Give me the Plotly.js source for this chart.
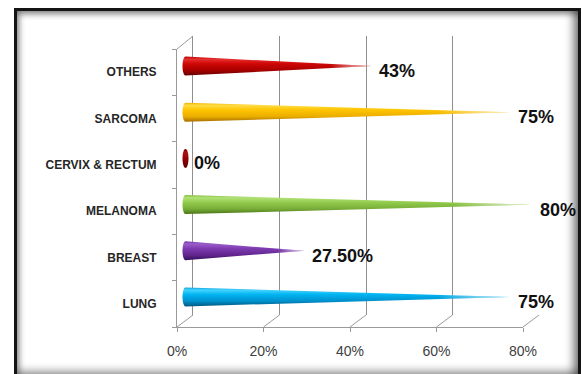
<!DOCTYPE html>
<html>
<head>
<meta charset="utf-8">
<script src="https://cdn.plot.ly/plotly-3.0.1.min.js"></script>
<style>
  html, body { margin: 0; padding: 0; background: #ffffff; overflow: hidden; }
  #wrap { position: relative; width: 582px; height: 374px; }
  #chart { position: absolute; left: 0; top: 0; width: 582px; height: 374px; }
  #frame {
    position: absolute; left: 14px; top: 8px; width: 567px; height: 372px;
    box-sizing: border-box; border: 3px solid #141414; pointer-events: none;
    box-shadow: inset -7px 0 8px -2px rgba(0,0,0,0.45),
                inset 4px 5px 6px -2px rgba(0,0,0,0.40),
                inset 0 -8px 8px -2px rgba(0,0,0,0.40);
  }
</style>
</head>
<body>
<div id="wrap">
  <div id="chart"></div>
  <div id="frame"></div>
</div>
<script>
// ---- data -------------------------------------------------------------
const categories  = ['LUNG', 'BREAST', 'MELANOMA', 'CERVIX & RECTUM', 'SARCOMA', 'OTHERS'];
const shares      = [75, 27.5, 80, 0, 75, 43];
const valueLabels = ['75%', '27.50%', '80%', '0%', '75%', '43%'];
const xTickVals   = [0, 20, 40, 60, 80];
const xTickText   = ['0%', '20%', '40%', '60%', '80%'];

// ---- cone colours (vertical shading, bottom -> top) --------------------
const coneShades = [
  [[0, '#00587f'], [0.28, '#0090cc'], [0.62, '#00b4f0'], [0.86, '#45d2ff'], [1, '#0fa4dc']],
  [[0, '#35105a'], [0.28, '#62268f'], [0.62, '#7f3cb2'], [0.86, '#9a5dcb'], [1, '#7434a6']],
  [[0, '#4a7419'], [0.28, '#78ae38'], [0.62, '#93cc4e'], [0.86, '#b2e276'], [1, '#86bd45']],
  [[0, '#5c0000'], [0.4, '#8a0000'], [0.8, '#a81414'], [1, '#7a0000']],
  [[0, '#a86f00'], [0.28, '#eaae00'], [0.62, '#ffc400'], [0.86, '#ffdc45'], [1, '#efb300']],
  [[0, '#620000'], [0.28, '#a80000'], [0.62, '#cf0606'], [0.86, '#e63030'], [1, '#bb0000']]
];
const tipFade = [[0, 'rgba(255,255,255,0)'], [0.78, 'rgba(255,255,255,0)'], [1, 'rgba(255,255,255,0.8)']];

// ---- geometry (pixels in the 582x374 page) -----------------------------
const W = 582, H = 374;
const GEO = {
  front: { x0: 177, x1: 523, y0: 49, y1: 327 },   // front edge of the box
  back:  { x0: 193, x1: 539, y0: 36, y1: 315 },   // back wall
  cones: { x0: 185.5, x1: 531.5, y0: 43, y1: 320 } // cones sit mid-depth
};
const fx = px => px / W;
const fy = px => 1 - px / H;
const X_MAX = 80;
const X_PAD = 2;                 // room left of zero for the rounded cone bases
const N = categories.length;

// cone base ellipse in data units of the cone axes
const pxPerX = (GEO.cones.x1 - GEO.cones.x0) / X_MAX;
const pxPerY = (GEO.cones.y1 - GEO.cones.y0) / N;
const BASE_RX = 3 / pxPerX;
const BASE_RY = 9.5 / pxPerY;

function coneOutline(value, yc) {
  const xs = [], ys = [];
  const steps = 28;
  for (let i = 0; i <= steps; i++) {
    const t = Math.PI / 2 + Math.PI * i / steps;          // left half of the base
    xs.push(BASE_RX * Math.cos(t));
    ys.push(yc + BASE_RY * Math.sin(t));
  }
  if (value > BASE_RX) {
    xs.push(value); ys.push(yc);                          // apex
  } else {
    for (let i = 1; i <= steps; i++) {                    // right half of the base
      const t = 1.5 * Math.PI + Math.PI * i / steps;
      xs.push(BASE_RX * Math.cos(t));
      ys.push(yc + BASE_RY * Math.sin(t));
    }
  }
  xs.push(xs[0]); ys.push(ys[0]);
  return { xs, ys };
}

// empty traces so the wall and front-edge subplots get drawn
const traces = [
  { type: 'scatter', x: [], y: [], xaxis: 'x', yaxis: 'y', hoverinfo: 'skip', showlegend: false },
  { type: 'scatter', x: [], y: [], xaxis: 'x2', yaxis: 'y2', hoverinfo: 'skip', showlegend: false }
];
categories.forEach((cat, i) => {
  const o = coneOutline(shares[i], i);
  traces.push({
    type: 'scatter', mode: 'none', x: o.xs, y: o.ys,
    xaxis: 'x3', yaxis: 'y3', fill: 'toself',
    fillcolor: coneShades[i][2][1],
    fillgradient: { type: 'vertical', colorscale: coneShades[i] },
    hoverinfo: 'skip', showlegend: false
  });
  if (shares[i] > BASE_RX) {
    traces.push({
      type: 'scatter', mode: 'none', x: o.xs, y: o.ys,
      xaxis: 'x3', yaxis: 'y3', fill: 'toself',
      fillcolor: 'rgba(255,255,255,0)',
      fillgradient: { type: 'horizontal', colorscale: tipFade },
      hoverinfo: 'skip', showlegend: false
    });
  }
});

// value labels next to each apex
const annotations = categories.map((cat, i) => ({
  x: shares[i], y: i, xref: 'x3', yref: 'y3',
  text: valueLabels[i], showarrow: false,
  xanchor: 'left', yanchor: 'middle', xshift: 6, yshift: -5,
  font: { family: 'Liberation Sans, Arial, sans-serif', size: 18, color: '#111111', weight: 'bold' }
}));

// depth edges of the box: floor diagonals and the top-left wall edge
const edgeLine = { color: '#9a9a9a', width: 1 };
const shapes = [];
xTickVals.forEach(v => {
  const xf = GEO.front.x0 + (GEO.front.x1 - GEO.front.x0) * v / X_MAX;
  const xb = GEO.back.x0 + (GEO.back.x1 - GEO.back.x0) * v / X_MAX;
  shapes.push({ type: 'line', xref: 'paper', yref: 'paper',
    x0: fx(xf), y0: fy(GEO.front.y1), x1: fx(xb), y1: fy(GEO.back.y1), line: edgeLine });
});
shapes.push({ type: 'line', xref: 'paper', yref: 'paper',
  x0: fx(GEO.front.x0), y0: fy(GEO.front.y0), x1: fx(GEO.back.x0), y1: fy(GEO.back.y0), line: edgeLine });

const catTickVals = categories.map((c, i) => i);
const boundaryVals = Array.from({ length: N + 1 }, (_, i) => i - 0.5);

const layout = {
  width: W, height: H,
  margin: { l: 0, r: 0, t: 0, b: 0, pad: 0 },
  paper_bgcolor: '#ffffff', plot_bgcolor: 'rgba(0,0,0,0)',
  showlegend: false,
  // back wall with the value gridlines
  xaxis: {
    domain: [fx(GEO.back.x0), fx(GEO.back.x1)], range: [0, X_MAX], anchor: 'y',
    tickmode: 'array', tickvals: xTickVals, showgrid: true, gridcolor: '#8f8f8f', gridwidth: 1,
    showticklabels: false, ticks: '', zeroline: false, showline: false
  },
  yaxis: {
    domain: [fy(GEO.back.y1), fy(GEO.back.y0)], range: [0, 1], anchor: 'x',
    showgrid: false, showticklabels: false, ticks: '', zeroline: false,
    showline: true, linecolor: '#8f8f8f', linewidth: 1
  },
  // front edge: value axis with percentage labels
  xaxis2: {
    domain: [fx(GEO.front.x0), fx(GEO.front.x1)], range: [0, X_MAX], anchor: 'y2',
    tickmode: 'array', tickvals: xTickVals, ticktext: xTickText,
    showgrid: false, zeroline: false, showline: true, linecolor: '#9a9a9a', linewidth: 1,
    ticks: 'outside', ticklen: 4, tickcolor: '#9a9a9a', ticklabelstandoff: 7,
    tickfont: { family: 'Liberation Sans, Arial, sans-serif', size: 14, color: '#404040' }
  },
  // front edge: category axis
  yaxis2: {
    domain: [fy(GEO.front.y1), fy(GEO.front.y0)], range: [-0.5, N - 0.5], anchor: 'x2',
    tickmode: 'array', tickvals: catTickVals, ticktext: categories,
    ticks: '', showgrid: false, zeroline: false, showline: true, linecolor: '#9a9a9a', linewidth: 1,
    ticklabelstandoff: 17,
    minor: { tickmode: 'array', tickvals: boundaryVals, ticks: 'outside', ticklen: 4, tickcolor: '#9a9a9a', showgrid: false },
    tickfont: { family: 'Liberation Sans, Arial, sans-serif', size: 12, color: '#262626', weight: 'bold' }
  },
  // mid-depth axes carrying the cones
  xaxis3: {
    domain: [fx(GEO.cones.x0 - X_PAD * pxPerX), fx(GEO.cones.x1)], range: [-X_PAD, X_MAX], anchor: 'y3',
    visible: false
  },
  yaxis3: {
    domain: [fy(GEO.cones.y1), fy(GEO.cones.y0)], range: [-0.5, N - 0.5], anchor: 'x3',
    visible: false
  },
  shapes: shapes,
  annotations: annotations
};

Plotly.newPlot('chart', traces, layout, { staticPlot: true, displayModeBar: false });
</script>
</body>
</html>
